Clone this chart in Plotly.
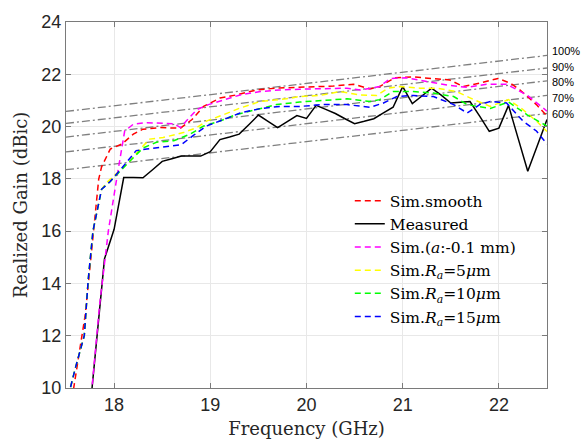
import plotly.graph_objects as go

# ---------------- data ----------------
f_smooth = [17.55, 17.58, 17.70, 17.78, 17.84, 17.87, 17.96, 18.08, 18.20, 18.30, 18.48, 18.69, 18.81, 18.93,
            19.10, 19.27, 19.48, 19.69, 19.86, 20.07, 20.28, 20.49, 20.66, 20.76, 20.92, 21.11, 21.28,
            21.49, 21.63, 21.80, 21.99, 22.12, 22.22, 22.39, 22.50]
g_smooth = [9.2, 10.0, 12.8, 15.7, 17.99, 18.46, 19.14, 19.33, 19.71, 19.90, 19.96, 19.94, 20.27, 20.77,
            21.09, 21.21, 21.40, 21.47, 21.50, 21.53, 21.55, 21.62, 21.44, 21.53, 21.87, 21.90, 21.84,
            21.78, 21.53, 21.66, 21.84, 21.66, 21.40, 20.84, 20.40]

f_meas = [17.70, 17.80, 17.90, 18.00, 18.10, 18.20, 18.30, 18.40, 18.50, 18.60, 18.70, 18.80, 18.90,
          19.00, 19.10, 19.20, 19.30, 19.40, 19.50, 19.60, 19.70, 19.80, 19.90, 20.00, 20.10, 20.20,
          20.30, 20.40, 20.50, 20.60, 20.70, 20.80, 20.90, 21.00, 21.10, 21.20, 21.30, 21.40, 21.50,
          21.60, 21.70, 21.80, 21.90, 22.00, 22.10, 22.20, 22.30, 22.40, 22.50]
g_meas = [7.3, 11.1, 14.94, 16.07, 18.05, 18.05, 18.04, 18.35, 18.67, 18.77, 18.87, 18.87, 18.87,
          19.04, 19.50, 19.60, 19.71, 20.07, 20.44, 20.20, 19.96, 20.19, 20.42, 20.31, 20.81, 20.66,
          20.50, 20.30, 20.11, 20.20, 20.30, 20.52, 20.74, 21.53, 20.88, 21.17, 21.47, 21.20, 20.90,
          20.93, 20.96, 20.40, 19.82, 19.94, 20.81, 19.55, 18.29, 19.28, 20.27]

f_a01 = [17.74, 17.77, 17.85, 17.94, 18.03, 18.08, 18.11, 18.20, 18.34, 18.62, 18.69, 18.75, 18.86,
         18.98, 19.14, 19.31, 19.52, 19.72, 19.93, 20.17, 20.42, 20.56, 20.76, 20.87, 21.04, 21.25,
         21.46, 21.67, 21.87, 22.08, 22.29, 22.50]
g_a01 = [9.0, 10.0, 13.2, 16.0, 18.08, 19.14, 19.83, 20.09, 20.15, 20.11, 19.96, 20.21, 20.65,
         20.84, 21.03, 21.21, 21.34, 21.40, 21.43, 21.44, 21.47, 21.40, 21.53, 21.84, 21.87, 21.72,
         21.59, 21.50, 21.62, 21.62, 21.21, 20.59]

f_r5 = [17.50, 17.545, 17.60, 17.69, 17.73, 17.78, 17.87, 17.92, 17.99, 18.17, 18.27, 18.37, 18.51,
        18.72, 18.86, 18.96, 19.14, 19.31, 19.52, 19.79, 19.93, 20.14, 20.35, 20.56, 20.73, 20.85,
        20.97, 21.18, 21.35, 21.56, 21.74, 21.91, 22.10, 22.25, 22.39, 22.50]
g_r5 = [8.9, 10.0, 10.8, 12.0, 14.1, 16.0, 17.6, 17.85, 18.08, 18.70, 19.14, 19.52, 19.58,
        19.77, 19.96, 20.21, 20.46, 20.71, 20.96, 21.06, 21.15, 21.19, 21.34, 21.21, 21.19, 21.47,
        21.53, 21.47, 21.47, 21.34, 21.03, 20.77, 21.03, 20.65, 20.21, 19.81]

f_r10 = [17.50, 17.545, 17.60, 17.69, 17.73, 17.78, 17.87, 17.96, 18.17, 18.30, 18.44, 18.62, 18.79,
         18.93, 19.10, 19.27, 19.48, 19.69, 19.93, 20.17, 20.42, 20.66, 20.76, 20.90, 21.11, 21.32,
         21.53, 21.67, 21.80, 21.91, 22.10, 22.29, 22.50]
g_r10 = [8.9, 10.0, 10.8, 12.0, 14.1, 16.0, 17.6, 17.9, 18.70, 19.18, 19.40, 19.46, 19.71,
         20.02, 20.21, 20.46, 20.65, 20.84, 20.94, 20.99, 21.06, 20.96, 21.03, 21.34, 21.34, 21.28,
         21.15, 20.84, 20.77, 20.69, 20.94, 20.46, 20.02]

f_r15 = [17.50, 17.545, 17.60, 17.69, 17.73, 17.78, 17.87, 17.96, 18.10, 18.23, 18.34, 18.51, 18.70,
         18.82, 18.96, 19.14, 19.31, 19.52, 19.72, 19.93, 20.17, 20.42, 20.66, 20.80, 20.94, 21.11,
         21.32, 21.53, 21.67, 21.80, 21.91, 22.08, 22.25, 22.39, 22.50]
g_r15 = [8.9, 10.0, 10.8, 12.0, 14.1, 16.0, 17.6, 17.9, 18.5, 19.08, 19.14, 19.21, 19.31,
         19.65, 20.02, 20.27, 20.52, 20.69, 20.77, 20.77, 20.84, 20.84, 20.74, 20.90, 21.15, 21.19,
         21.15, 20.84, 20.52, 20.84, 20.96, 20.90, 20.21, 19.83, 19.33]

# aperture-efficiency reference lines (endpoints at 17.5 and 22.5 GHz)
eff_labels = ["100%", "90%", "80%", "70%", "60%"]
eff_f = [17.5, 22.5]
eff_left = [20.58, 20.12, 19.60, 19.03, 18.35]
eff_right = [22.72, 22.24, 21.75, 21.19, 20.50]
eff_label_y = [22.91, 22.27, 21.70, 21.10, 20.50]

x_ticks = [18, 19, 20, 21, 22]
y_ticks = [10, 12, 14, 16, 18, 20, 22, 24]

SERIF = "DejaVu Serif, Liberation Serif, serif"
SANS = "Liberation Sans, Arial, sans-serif"

# ---------------- figure ----------------
fig = go.Figure()

for lo, hi in zip(eff_left, eff_right):
    fig.add_trace(go.Scatter(x=eff_f, y=[lo, hi], mode="lines", showlegend=False,
                             line=dict(color="#7f7f7f", width=1.3, dash="8px,3px,2px,3px"),
                             hoverinfo="skip"))

dash = "6px,4px"
series = [
    ("Sim.smooth", f_smooth, g_smooth, "#ff0000", dash),
    ("Measured", f_meas, g_meas, "#000000", "solid"),
    ("Sim.(<i>a</i>:-0.1 mm)", f_a01, g_a01, "#ff00ff", dash),
    ("Sim.<i>R</i><sub><i>a</i></sub>=5<i>μ</i>m", f_r5, g_r5, "#ffff00", dash),
    ("Sim.<i>R</i><sub><i>a</i></sub>=10<i>μ</i>m", f_r10, g_r10, "#00ff00", dash),
    ("Sim.<i>R</i><sub><i>a</i></sub>=15<i>μ</i>m", f_r15, g_r15, "#0000ff", dash),
]
for name, fx, gy, col, ds in series:
    fig.add_trace(go.Scatter(x=fx, y=gy, mode="lines", name=name,
                             line=dict(color=col, width=1.5, dash=ds)))

for lab, yy in zip(eff_labels, eff_label_y):
    fig.add_annotation(x=1.0, xref="paper", y=yy, yref="y", text=lab, showarrow=False,
                       xanchor="left", xshift=3, font=dict(family=SANS, size=11, color="black"))

axis_common = dict(showline=True, linecolor="#7a7a7a", linewidth=1.3, mirror="ticks",
                   ticks="inside", ticklen=5, tickcolor="#7a7a7a",
                   showgrid=True, gridcolor="#e8e8e8", gridwidth=1, zeroline=False,
                   tickfont=dict(family=SANS, size=18, color="#262626"))

fig.update_xaxes(range=[17.5, 22.5], tickvals=x_ticks,
                 title=dict(text="Frequency (GHz)", font=dict(family=SERIF, size=18, color="#262626"),
                            standoff=8),
                 **axis_common)
fig.update_yaxes(range=[10, 24], tickvals=y_ticks,
                 title=dict(text="Realized Gain (dBic)", font=dict(family=SERIF, size=18, color="#262626"),
                            standoff=8),
                 **axis_common)

fig.update_layout(
    width=582, height=448,
    margin=dict(l=66, r=35, t=16, b=60),
    plot_bgcolor="white", paper_bgcolor="white",
    legend=dict(x=0.59, y=0.557, xanchor="left", yanchor="top", bgcolor="rgba(0,0,0,0)",
                font=dict(family=SERIF, size=15.5, color="black"),
                itemwidth=30, tracegroupgap=0),
)

fig.write_html("out.html")
